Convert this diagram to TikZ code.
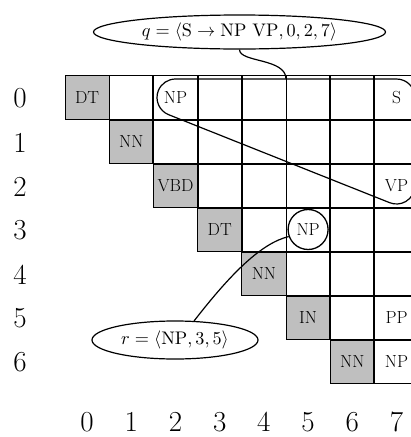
\documentclass[tikz,border=0pt]{standalone}
\usetikzlibrary{shapes.geometric,calc}
\begin{document}
\begin{tikzpicture}[x=1pt,y=1pt,
  cellbox/.style={draw,line width=0.9pt,minimum width=44.2pt,minimum height=44pt,inner sep=0pt,anchor=center},
  tagcell/.style={cellbox,fill=gray!50,font=\fontsize{17.5}{20}\selectfont},
  celltext/.style={inner sep=0pt,font=\fontsize{17.5}{20}\selectfont},
  thickline/.style={line width=2pt},
  axislabel/.style={font=\fontsize{29}{32}\selectfont,inner sep=0pt},
  bubble/.style={draw,ellipse,line width=1.2pt,inner sep=0pt,fill=white},
  hull/.style={line width=1.2pt},
  link/.style={line width=1.2pt}
]
\clip (0,0) rectangle (411,-437);

% white cells
\foreach \r in {0,...,6}{
  \pgfmathtruncatemacro\s{\r+1}
  \foreach \c in {\s,...,7}{
    \node[cellbox] (c-\r-\c) at ({87.1+44.2*\c},{-97.5-44*\r}) {};
  }
}
% diagonal (tag) cells
\foreach \r/\t in {0/DT,1/NN,2/VBD,3/DT,4/NN,5/IN,6/NN}{
  \node[tagcell] (c-\r-\r) at ({87.1+44.2*\r},{-97.5-44*\r}) {\t};
}

% thick grid lines
\foreach \i in {1,...,6}{
  \draw[thickline] ({65+44.2*\i},{-75.5-44*\i}) -- (420,{-75.5-44*\i});
}
\foreach \j in {2,3,4,6}{
  \draw[thickline] ({65+44.2*\j},-75.5) -- ({65+44.2*\j},{-75.5-44*\j});
}
\draw[thickline] ({65+44.2*7},-75.5) -- ({65+44.2*7},-383.5);

% labels in cells
\node[celltext] (l-0-2) at (c-0-2) {NP};
\node[celltext] (l-0-7) at (c-0-7) {S};
\node[celltext] (l-2-7) at (c-2-7) {VP};
\node[celltext] (l-5-7) at (c-5-7) {PP};
\node[celltext] (l-6-7) at (c-6-7) {NP};

% hull around NP, S, VP
\draw[hull] ($(c-0-2)+(0,18.5)$) -- ($(c-0-7)+(0,18.5)$)
  arc[start angle=90,end angle=0,radius=18.5]
  -- ($(c-2-7)+(18.5,0)$)
  arc[start angle=0,end angle=-111.7,radius=18.5]
  -- ($(c-0-2)+(-111.7:18.5)$)
  arc[start angle=-111.7,end angle=-270,radius=18.5] -- cycle;

% circled NP
\node[draw,circle,minimum size=40pt,inner sep=0pt,line width=1.3pt,fill=white,font=\fontsize{17.5}{20}\selectfont] (np35) at (c-3-5) {NP};

% row and column numbers
\foreach \r in {0,...,6}{
  \node[axislabel] (row-\r) at (20,{-98.5-44*\r}) {\r};
}
\foreach \c in {0,...,7}{
  \node[axislabel] (col-\c) at ({87.1+44.2*\c},-422) {\c};
}

% callouts
\node[bubble,minimum width=292pt,minimum height=34pt] (q) at (239.5,-32)
  {\scalebox{1.82}{$q = \langle \mathrm{S} \rightarrow \mathrm{NP}\ \mathrm{VP}, 0, 2, 7\rangle$}};
\coordinate (qend) at (286,-79);
\draw[link] (q.south) .. controls +(0,-13) and +(0,21) .. (qend);

\node[bubble,minimum width=166pt,minimum height=38pt] (r) at (175,-340)
  {\scalebox{1.82}{$r = \langle \mathrm{NP}, 3, 5\rangle$}};
\draw[link] (r.45) .. controls (232,-272) and (262,-243) .. (np35.200);
\end{tikzpicture}
\end{document}
